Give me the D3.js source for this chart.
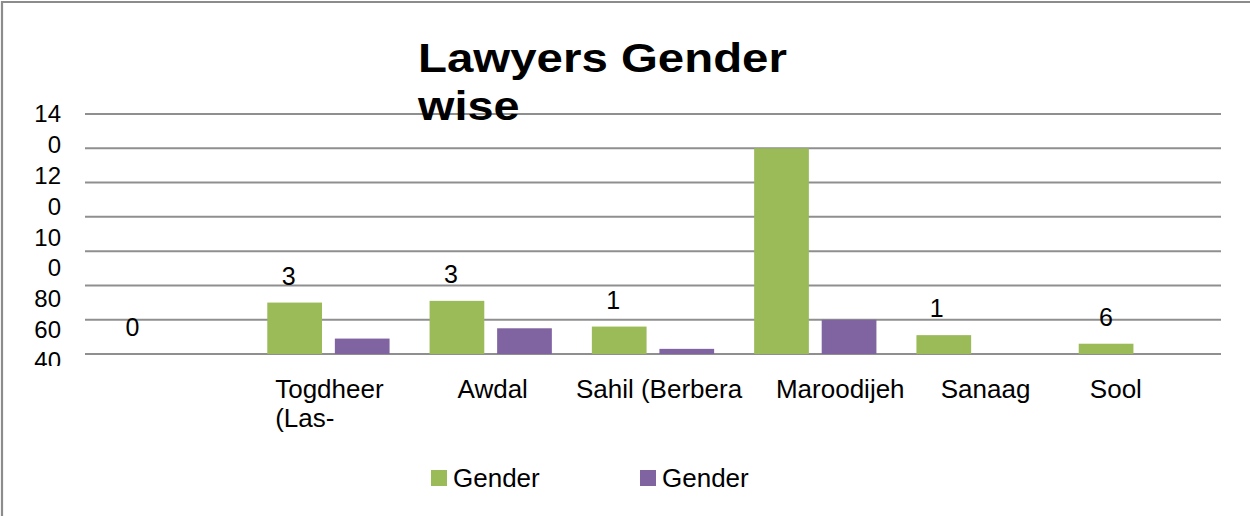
<!DOCTYPE html>
<html>
<head>
<meta charset="utf-8">
<script src="https://cdn.jsdelivr.net/npm/d3@7"></script>
<style>
  html, body { margin: 0; padding: 0; background: #fff; }
  svg { display: block; font-family: "Liberation Sans", Arial, sans-serif; }
</style>
</head>
<body>
<div id="hook-lawyers"></div>
<script>
'use strict';

var categories = ['', 'Togdheer', 'Awdal', 'Sahil (Berbera', 'Maroodijeh', 'Sanaag', 'Sool'];
var secondLines = ['', '(Las-', '', '', '', '', ''];
var seriesNames = ['Gender', 'Gender'];
var greenValues = [0, 30, 31, 16, 120, 11, 6];
var purpleValues = [0, 9, 15, 3, 20, 0, 0];
var greenLabels = ['0', '3', '3', '1', '', '1', '6'];
var yTicks = [0, 20, 40, 60, 80, 100, 120, 140];
var yTickLines = ['14', '0', '12', '0', '10', '0', '80', '60', '40'];
var titleLines = ['Lawyers Gender', 'wise'];

(function() {

var options = {
  width: 1250,
  height: 516,
  left: 85,
  right: 1221,
  top: 114,
  bottom: 354,
  colors: ['#9BBB59', '#8064A2'],
  grid: '#8f8f8f'
};

// small nudges so wrapped category text and value text sit where the original put them
var labelShift = [0, 1, 2, 6, 25, 8, -24];
var valueShift = [0, -6, -6, -6, 0, -7, 0];

function update(options) {

  var svg = d3.select('#hook-lawyers')
    .append('svg')
    .attr('width', options.width)
    .attr('height', options.height);

  // chart border (only top and left show in the frame)
  svg.append('path')
    .attr('d', 'M2,' + (options.height + 5) + 'V2H' + (options.width + 5))
    .style('fill', 'none')
    .style('stroke', '#8c8c8c')
    .style('stroke-width', 2.2);

  var x0 = d3.scaleBand()
    .domain(categories)
    .range([options.left, options.right]);

  var bw = x0.bandwidth();
  var x1 = d3.scaleBand()
    .domain([0, 1])
    .range([20, bw - 20])
    .paddingInner(0.19);

  var y = d3.scaleLinear()
    .domain([0, 140])
    .range([options.bottom, options.top]);

  // gridlines
  svg.append('g')
    .selectAll('line')
    .data(yTicks)
    .join('line')
    .attr('x1', options.left)
    .attr('x2', options.right)
    .attr('y1', function(d) { return y(d); })
    .attr('y2', function(d) { return y(d); })
    .style('stroke', options.grid)
    .style('stroke-width', 2);

  // y tick text, wrapped and clipped like the original
  svg.append('clipPath')
    .attr('id', 'yclip')
    .append('rect')
    .attr('x', 0).attr('y', 0)
    .attr('width', 84).attr('height', 366);

  svg.append('g')
    .attr('clip-path', 'url(#yclip)')
    .selectAll('text')
    .data(yTickLines)
    .join('text')
    .attr('x', 61)
    .attr('y', function(d, i) { return 122.3 + i * 30.8; })
    .attr('text-anchor', 'end')
    .style('font-size', '24px')
    .style('fill', '#000')
    .text(function(d) { return d; });

  // bars
  var series = [greenValues, purpleValues];
  series.forEach(function(vals, s) {
    svg.append('g')
      .selectAll('rect')
      .data(vals)
      .join('rect')
      .attr('x', function(d, i) { return x0(categories[i]) + x1(s); })
      .attr('y', function(d) { return y(d); })
      .attr('width', x1.bandwidth())
      .attr('height', function(d) { return y(0) - y(d); })
      .style('fill', options.colors[s]);
  });

  // data labels on the green series
  svg.append('g')
    .selectAll('text')
    .data(greenValues)
    .join('text')
    .attr('x', function(d, i) { return x0(categories[i]) + x1(0) + x1.bandwidth() / 2 + valueShift[i]; })
    .attr('y', function(d) { return y(d) - 18; })
    .attr('text-anchor', 'middle')
    .style('font-size', '25px')
    .text(function(d, i) { return greenLabels[i]; });

  // category labels
  var cat = svg.append('g')
    .selectAll('g')
    .data(categories)
    .join('g');

  cat.append('text')
    .attr('class', 'line1')
    .attr('x', function(d, i) { return x0(d) + bw / 2 + labelShift[i]; })
    .attr('y', 398)
    .attr('text-anchor', 'middle')
    .style('font-size', '26px')
    .text(function(d) { return d; });

  cat.each(function(d, i) {
    if (!secondLines[i]) return;
    var first = d3.select(this).select('.line1').node();
    var w = first.getComputedTextLength();
    d3.select(this).append('text')
      .attr('x', x0(d) + bw / 2 + labelShift[i] - w / 2)
      .attr('y', 427)
      .style('font-size', '26px')
      .text(secondLines[i]);
  });

  // title
  var title = svg.append('g');
  titleLines.forEach(function(t, i) {
    var txt = title.append('text')
      .style('font-size', '40px')
      .style('font-weight', 'bold')
      .text(t);
    var w = txt.node().getComputedTextLength();
    var k = i == 0 ? 369 / w : 1.17;
    txt.attr('transform', 'translate(418,' + (72 + i * 48) + ') scale(' + k + ',1)');
  });

  // legend
  var legX = [431, 640];
  var leg = svg.append('g')
    .selectAll('g')
    .data(seriesNames)
    .join('g')
    .attr('transform', function(d, i) { return 'translate(' + legX[i] + ',470)'; });

  leg.append('rect')
    .attr('width', 16)
    .attr('height', 16)
    .style('fill', function(d, i) { return options.colors[i]; });

  leg.append('text')
    .attr('x', 22)
    .attr('y', 17)
    .style('font-size', '26px')
    .text(function(d) { return d; });
}

update(options);

}());
</script>
</body>
</html>
